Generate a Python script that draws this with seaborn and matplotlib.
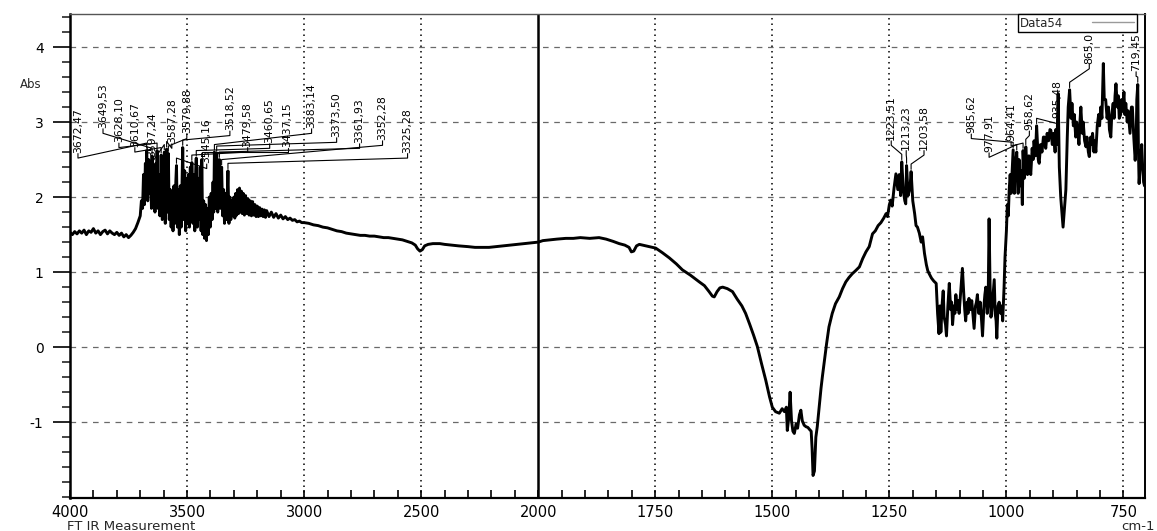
import numpy as np
import pandas as pd
import matplotlib
matplotlib.use("Agg")
import matplotlib.pyplot as plt
import seaborn as sns
from matplotlib import font_manager as fm
from matplotlib.ticker import FixedLocator, FixedFormatter, MultipleLocator

# ---------------------------------------------------------------------------
# FTIR spectrum (wavenumber in cm-1, absorbance), split by spectral region
# ---------------------------------------------------------------------------
baseline_hi = [
    (4000, 1.53), (3990, 1.50), (3980, 1.54), (3970, 1.51), (3960, 1.55),
    (3950, 1.52), (3940, 1.56), (3930, 1.50), (3920, 1.55), (3910, 1.53),
    (3900, 1.58), (3890, 1.52), (3880, 1.55), (3870, 1.50), (3860, 1.54),
    (3850, 1.56), (3840, 1.51), (3830, 1.55), (3820, 1.52), (3810, 1.50),
    (3800, 1.53), (3790, 1.49), (3780, 1.52), (3770, 1.47), (3760, 1.50),
    (3750, 1.46), (3740, 1.49), (3730, 1.53), (3720, 1.58), (3710, 1.66),
    (3700, 1.75),
]

oh_band = [
    (3695, 1.95), (3690, 1.85), (3686, 2.30), (3682, 1.90), (3678, 2.45),
    (3675, 2.00), (3672.47, 2.62), (3668, 1.95), (3664, 2.50), (3660, 2.05),
    (3656, 2.40), (3652, 1.85), (3649.53, 2.55), (3645, 1.90), (3641, 2.35),
    (3637, 1.80), (3633, 2.45), (3630, 1.95), (3628.10, 2.62), (3624, 1.85),
    (3620, 2.30), (3616, 1.75), (3613, 2.20), (3610.67, 2.56), (3606, 1.70),
    (3602, 2.10), (3597.24, 2.60), (3593, 1.65), (3590, 2.20), (3587.28, 2.64),
    (3583, 1.80), (3579.88, 2.58), (3576, 1.70), (3572, 2.10), (3568, 1.60),
    (3564, 2.05), (3560, 1.55), (3556, 2.15), (3552, 1.65), (3548, 2.20),
    (3545.16, 2.42), (3541, 1.60), (3537, 2.10), (3533, 1.50), (3529, 2.15),
    (3525, 1.60), (3521, 2.30), (3518.52, 2.66), (3514, 1.70), (3510, 2.35),
    (3506, 1.55), (3502, 2.25), (3498, 1.65), (3494, 2.30), (3490, 1.60),
    (3486, 2.40), (3482, 1.70), (3479.58, 2.46), (3475, 1.65), (3471, 2.30),
    (3467, 1.55), (3463, 2.35), (3460.65, 2.52), (3456, 1.60), (3452, 2.25),
    (3448, 1.70), (3444, 2.40), (3440, 1.55), (3437.15, 2.50), (3433, 1.50),
    (3429, 1.95), (3425, 1.45), (3421, 1.90), (3417, 1.42), (3413, 1.85),
    (3409, 1.50), (3405, 2.00), (3401, 1.60), (3397, 2.05), (3393, 1.70),
    (3389, 2.20), (3386, 1.80), (3383.14, 2.60), (3379, 1.85), (3376, 2.30),
    (3373.50, 2.58), (3369, 1.80), (3365, 2.20), (3361.93, 2.50), (3358, 1.85),
    (3355, 2.10), (3352.28, 2.40), (3348, 1.75), (3344, 2.10), (3340, 1.65),
    (3336, 2.05), (3332, 1.70), (3329, 1.95), (3325.28, 2.35), (3321, 1.65),
    (3317, 2.00), (3313, 1.70), (3309, 1.95), (3305, 1.75), (3300, 2.00),
    (3296, 1.72), (3292, 2.05), (3288, 1.76), (3284, 2.10), (3280, 1.78),
    (3276, 2.12), (3272, 1.80), (3268, 2.08), (3264, 1.78), (3260, 2.05),
    (3255, 1.76), (3250, 2.02), (3245, 1.78), (3240, 1.98), (3235, 1.76),
    (3230, 1.95), (3225, 1.75), (3220, 1.94), (3215, 1.76), (3210, 1.90),
    (3205, 1.74), (3200, 1.88), (3195, 1.74), (3190, 1.86), (3185, 1.75),
    (3180, 1.84), (3175, 1.74), (3170, 1.83), (3165, 1.73), (3160, 1.82),
    (3150, 1.74), (3140, 1.80), (3130, 1.73), (3120, 1.78), (3110, 1.72),
    (3100, 1.76), (3090, 1.71), (3080, 1.74), (3070, 1.70), (3060, 1.72),
    (3050, 1.69), (3040, 1.70), (3030, 1.67), (3020, 1.68), (3010, 1.66),
]

mid_range = [
    (3000, 1.66), (2980, 1.65), (2960, 1.63), (2940, 1.62), (2920, 1.60),
    (2900, 1.59), (2880, 1.57), (2860, 1.55), (2840, 1.54), (2820, 1.52),
    (2800, 1.51), (2780, 1.50), (2760, 1.49), (2740, 1.49), (2720, 1.48),
    (2700, 1.48), (2680, 1.47), (2660, 1.46), (2640, 1.46), (2620, 1.45),
    (2600, 1.44), (2580, 1.43), (2560, 1.41), (2540, 1.39), (2525, 1.36),
    (2515, 1.31), (2505, 1.28), (2495, 1.30), (2485, 1.35), (2470, 1.37),
    (2450, 1.38), (2420, 1.38), (2400, 1.37), (2370, 1.36), (2340, 1.35),
    (2300, 1.34), (2270, 1.33), (2240, 1.33), (2210, 1.33), (2180, 1.34),
    (2150, 1.35), (2120, 1.36), (2090, 1.37), (2060, 1.38), (2030, 1.39),
    (2000, 1.40),
]

fingerprint = [
    (1990, 1.42), (1975, 1.43), (1960, 1.44), (1941, 1.45), (1925, 1.45),
    (1910, 1.46), (1890, 1.45), (1870, 1.46), (1855, 1.44), (1840, 1.41),
    (1827, 1.38), (1815, 1.36), (1806, 1.33), (1801, 1.27), (1796, 1.28),
    (1790, 1.35), (1784, 1.37), (1770, 1.35), (1749, 1.32), (1735, 1.26),
    (1720, 1.19), (1705, 1.11), (1692, 1.03), (1675, 0.96), (1656, 0.87),
    (1645, 0.82), (1635, 0.74), (1628, 0.68), (1624, 0.67), (1618, 0.74),
    (1612, 0.79), (1606, 0.80), (1596, 0.78), (1585, 0.74), (1575, 0.64),
    (1565, 0.55), (1557, 0.45), (1548, 0.30), (1540, 0.16), (1532, 0.01),
    (1523, -0.22), (1514, -0.44), (1506, -0.66), (1500, -0.80), (1493, -0.86),
    (1485, -0.88), (1479, -0.82), (1474, -0.86), (1470, -0.80), (1468, -1.11),
    (1465, -0.95), (1462, -0.60), (1459, -0.98), (1456, -1.12), (1453, -1.15),
    (1449, -1.02), (1446, -1.08), (1442, -0.90), (1439, -0.84), (1436, -0.98),
    (1432, -1.04), (1428, -1.06), (1424, -1.07), (1420, -1.10), (1417, -1.12),
    (1415, -1.35), (1413, -1.71), (1410, -1.65), (1407, -1.20), (1404, -1.06),
    (1400, -0.80), (1396, -0.55), (1393, -0.39), (1388, -0.15), (1384, 0.05),
    (1379, 0.27), (1372, 0.45), (1365, 0.58), (1357, 0.67), (1350, 0.78),
    (1343, 0.87), (1336, 0.93), (1329, 0.98), (1322, 1.02), (1314, 1.07),
    (1307, 1.18), (1300, 1.27),
]

low_range = [
    (1293, 1.34), (1286, 1.51), (1280, 1.55), (1274, 1.62), (1268, 1.66),
    (1262, 1.72), (1257, 1.78), (1254, 1.74), (1250, 1.90), (1247, 1.96),
    (1244, 1.88), (1240, 2.12), (1236, 2.31), (1232, 2.10), (1229, 2.30),
    (1226, 2.02), (1223.51, 2.47), (1220, 2.08), (1217, 1.95), (1215, 1.91),
    (1213.23, 2.42), (1210, 2.02), (1206, 2.12), (1203.58, 2.34), (1200, 1.95),
    (1196, 1.78), (1193, 1.62), (1190, 1.60), (1186, 1.52), (1182, 1.40),
    (1179, 1.47), (1175, 1.25), (1171, 1.10), (1168, 1.02), (1165, 0.98),
    (1160, 0.92), (1155, 0.88), (1150, 0.85), (1147, 0.45), (1144, 0.18),
    (1142, 0.55), (1140, 0.20), (1137, 0.60), (1135, 0.75), (1133, 0.40),
    (1130, 0.30), (1128, 0.15), (1125, 0.55), (1122, 0.85), (1119, 0.50),
    (1117, 0.60), (1115, 0.30), (1112, 0.55), (1110, 0.45), (1108, 0.70),
    (1105, 0.50), (1103, 0.62), (1101, 0.45), (1097, 0.80), (1094, 1.05),
    (1091, 0.70), (1089, 0.50), (1087, 0.35), (1084, 0.60), (1082, 0.45),
    (1080, 0.65), (1077, 0.50), (1074, 0.62), (1071, 0.40), (1069, 0.25),
    (1066, 0.55), (1064, 0.60), (1062, 0.70), (1059, 0.45), (1056, 0.60),
    (1053, 0.35), (1051, 0.15), (1048, 0.55), (1046, 0.70), (1044, 0.80),
    (1041, 0.45), (1039, 0.60), (1037, 1.71), (1035, 0.85), (1033, 0.40),
    (1031, 0.50), (1028, 0.75), (1026, 0.90), (1024, 0.45), (1022, 0.35),
    (1020.5, 0.12), (1018, 0.55), (1015.5, 0.60), (1012, 0.45), (1010, 0.55),
    (1008, 0.35), (1005, 0.80), (1003, 1.20), (1000, 1.55), (998, 1.90),
    (996, 1.75), (994, 2.10), (992, 2.30), (990, 2.05), (987, 2.45),
    (985.62, 2.63), (983, 2.05), (981, 2.40), (977.91, 2.60), (975, 2.05),
    (973, 2.50), (970, 2.15), (968, 2.35), (966, 1.90), (964.41, 2.62),
    (962, 2.25), (960, 2.45), (958.62, 2.67), (955, 2.30), (952, 2.55),
    (950, 2.40), (948, 2.30), (945, 2.65), (943, 2.50), (941, 2.75),
    (938, 2.55), (935.48, 2.95), (932, 2.50), (930, 2.45), (927, 2.70),
    (924, 2.60), (921, 2.80), (919, 2.80), (916, 2.65), (913, 2.85),
    (910, 2.75), (907, 2.90), (905, 2.89), (902, 2.70), (899, 2.85),
    (896, 2.60), (894.5, 2.90), (892, 2.70), (889.5, 3.38), (887, 2.40),
    (884, 2.00), (881, 1.75), (879, 1.60), (876, 1.85), (873, 2.10),
    (870, 2.80), (868, 3.20), (865.0, 3.43), (862, 3.05), (860, 3.25),
    (857, 2.95), (855, 3.10), (852, 2.80), (850, 3.00), (848, 2.90),
    (845, 2.70), (843, 3.00), (841, 3.20), (838, 2.85), (836, 3.00),
    (833, 2.75), (830, 2.67), (828, 2.80), (825, 2.60), (823, 2.54),
    (820, 2.80), (818, 2.70), (816, 2.85), (813, 2.60), (811, 2.75),
    (809, 2.60), (806, 2.95), (803, 3.10), (801, 2.95), (798.5, 3.20),
    (796, 3.05), (793, 3.78), (791, 3.30), (788, 3.30), (785, 3.05),
    (782, 3.20), (780, 2.90), (777, 2.80), (775, 3.10), (772, 3.25),
    (770, 3.05), (768, 3.35), (766, 3.51), (763, 3.20), (761, 3.35),
    (759, 3.05), (756, 3.10), (754, 3.30), (752, 3.15), (749, 3.40),
    (747, 3.10), (745, 3.25), (742, 3.00), (740, 3.15), (738, 3.00),
    (736, 2.85), (733, 3.20), (731, 3.20), (728, 2.80), (725, 2.49),
    (723, 2.70), (721.5, 3.30), (719.45, 3.50), (718, 2.60), (716.6, 2.18),
    (714, 2.45), (711, 2.70), (709, 2.40), (707, 2.20), (705, 2.15),
]

# Peak annotations (text as printed by the instrument software)
peak_text = [
    "3672,47", "3649,53", "3628,10", "3610,67", "3597,24", "3587,28",
    "3579,88", "3545,16", "3518,52", "3479,58", "3460,65", "3437,15",
    "3383,14", "3373,50", "3361,93", "3352,28", "3325,28",
    "1223,51", "1213,23", "1203,58", "985,62", "977,91", "964,41",
    "958,62", "935,48", "865,0", "719,45",
]
# where each rotated label sits (wavenumber, absorbance at text bottom)
label_anchor = [
    (3966, 2.59), (3859, 2.92), (3791, 2.73), (3723, 2.67), (3650, 2.53),
    (3565, 2.72), (3501, 2.85), (3416, 2.45), (3317, 2.89), (3241, 2.67),
    (3147, 2.72), (3070, 2.67), (2968, 2.92), (2861, 2.80), (2763, 2.72),
    (2665, 2.76), (2558, 2.59),
    (1246, 2.76), (1214, 2.63), (1176, 2.63), (1075, 2.85), (1037, 2.60),
    (990, 2.75), (951, 2.89), (892, 3.05), (823, 3.78), (723, 3.68),
]

x_major = [4000, 3500, 3000, 2500, 2000, 1750, 1500, 1250, 1000, 750]
y_major = [-1, 0, 1, 2, 3, 4]

# ---------------------------------------------------------------------------
segments = [baseline_hi, oh_band, mid_range, fingerprint, low_range]
wn = np.array([p[0] for seg in segments for p in seg], dtype=float)
ab = np.array([p[1] for seg in segments for p in seg], dtype=float)
spectrum = pd.DataFrame({"wavenumber": wn, "absorbance": ab})


# The instrument plots 4000-2000 cm-1 at half the scale of 2000-700 cm-1
def fwd(w):
    w = np.asarray(w, dtype=float)
    return np.where(w >= 2000, (w - 4000) / 500.0, -4 + (w - 2000) / 250.0)


def inv(u):
    u = np.asarray(u, dtype=float)
    return np.where(u >= -4, 4000 + 500.0 * u, 2000 + 250.0 * (u + 4))


sns.set_style("white")
plt.rcParams["font.family"] = ["DejaVu Sans"]
plt.rcParams["axes.unicode_minus"] = False

names = {f.name for f in fm.fontManager.ttflist}
if "Liberation Sans Narrow" in names:
    peak_font, peak_size = "Liberation Sans Narrow", 10
else:
    peak_font, peak_size = "DejaVu Sans", 7.8

W, H = 1157, 531
fig = plt.figure(figsize=(W / 100, H / 100), dpi=100)
fig.patch.set_facecolor("white")
ax = fig.add_axes([70 / W, 1 - 498 / H, 1075 / W, 484 / H])
ax.set_xscale("function", functions=(fwd, inv))

sns.lineplot(data=spectrum, x="wavenumber", y="absorbance", sort=False,
             estimator=None, color="black", lw=2.1, label="Data54",
             ax=ax, zorder=3)

ax.set_xlim(4000, 704)
ax.set_ylim(-2.01, 4.44)
ax.set_xlabel("")
ax.set_ylabel("")

# grid: dotted verticals, dashed horizontals, solid line at the scale break
for xv in x_major:
    if xv == 2000:
        ax.axvline(xv, color="black", lw=1.8, zorder=2)
    elif xv != 4000:
        ax.axvline(xv, color="black", lw=1.1, ls=(0, (1, 2.6)), zorder=1)
for yv in y_major:
    ax.axhline(yv, color="#6a6a6a", lw=0.9, ls=(0, (4.5, 4.5)), zorder=1)

# ticks
ax.xaxis.set_major_locator(FixedLocator(x_major))
ax.xaxis.set_major_formatter(FixedFormatter([str(v) for v in x_major]))
x_minor = [v for v in range(3900, 2000, -100) if v not in x_major] + \
          [v for v in range(1950, 704, -50) if v not in x_major]
ax.xaxis.set_minor_locator(FixedLocator(x_minor))
ax.yaxis.set_major_locator(FixedLocator(y_major))
ax.yaxis.set_major_formatter(FixedFormatter([str(v) for v in y_major]))
ax.yaxis.set_minor_locator(MultipleLocator(0.2))

ax.tick_params(axis="x", which="both", direction="in", length=6, width=1.2,
               labelsize=10.5, pad=5, colors="black", bottom=True)
ax.tick_params(axis="y", which="major", direction="out", length=12, width=1.2,
               labelsize=10, pad=7, colors="black", left=True)
ax.tick_params(axis="y", which="minor", direction="out", length=6, width=1.2,
               left=True)

for side, lw in [("left", 1.8), ("bottom", 1.6), ("right", 1.4), ("top", 1.0)]:
    ax.spines[side].set_visible(True)
    ax.spines[side].set_color("black" if side != "top" else "#555555")
    ax.spines[side].set_linewidth(lw)

# peak labels with leader lines
for text, (tw, ty) in zip(peak_text, label_anchor):
    pw = float(text.replace(",", "."))
    pv = ab[np.argmin(np.abs(wn - pw))]
    ax.text(tw, ty, text, rotation=90, ha="center", va="bottom",
            fontsize=peak_size, family=peak_font, color="black", zorder=6)
    ax.plot([tw, tw, pw, pw], [ty - 0.01, ty - 0.07, pv + 0.10, pv + 0.03],
            color="black", lw=0.8, zorder=4)

# legend box in the top-right corner
leg = ax.legend(loc="upper right", bbox_to_anchor=(1067 / 1075, 1.0),
                frameon=True, fancybox=False, framealpha=1, edgecolor="black",
                fontsize=8.5, handlelength=3.6, markerfirst=False,
                borderpad=0.22, borderaxespad=0, handletextpad=2.4)
leg.get_frame().set_linewidth(1.0)
leg.set_zorder(5)
for h in leg.get_lines():
    h.set_color("#9a9a9a")
    h.set_linewidth(1.0)

fig.text(20 / W, 1 - 85 / H, "Abs", fontsize=8.5, va="center", ha="left")
fig.text(67 / W, 1 - 520 / H, "FT IR Measurement", fontsize=9.5,
         va="top", ha="left")
fig.text(1138 / W, 1 - 520 / H, "cm-1", fontsize=9.5, va="top", ha="center")

fig.savefig("out.png", dpi=100, facecolor="white")
